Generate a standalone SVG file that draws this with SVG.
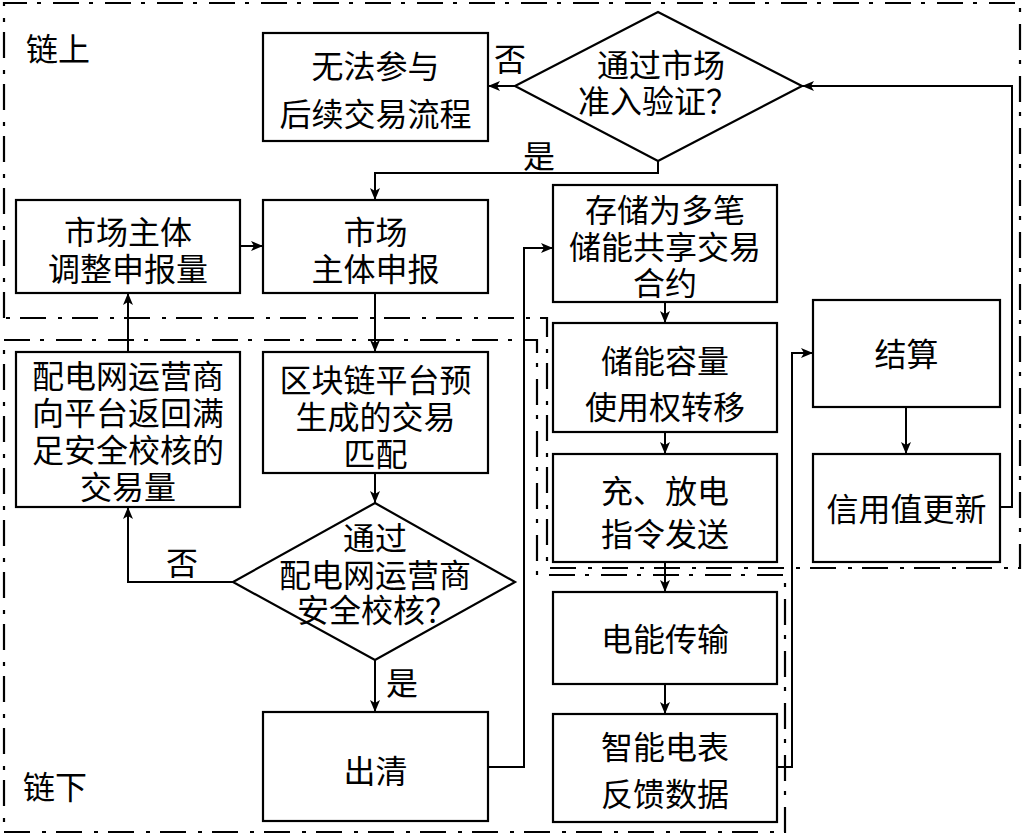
<svg xmlns="http://www.w3.org/2000/svg" width="1026" height="838" viewBox="0 0 1026 838">
<defs>
<marker id="ah" viewBox="0 0 12 10" refX="12" refY="5" markerWidth="12" markerHeight="10" markerUnits="userSpaceOnUse" orient="auto">
<path d="M0,0 L12,5 L0,10 L3,5 Z" fill="#000"/>
</marker>
<style>
.box{fill:#fff;stroke:#000;stroke-width:2.2}
.region{fill:none;stroke:#000;stroke-width:2.2;stroke-dasharray:26 10 4 12}
.conn{fill:none;stroke:#000;stroke-width:2}
.arr{marker-end:url(#ah)}
text{font-family:"Noto Sans CJK SC","Noto Sans CJK JP",sans-serif;font-size:32px;fill:#000;text-anchor:middle;dominant-baseline:central}
.lbl{text-anchor:start}
</style>
</defs>
<rect width="1026" height="838" fill="#fff"/>
<g id="regions">
<path class="region" d="M4,318 L4,3 L1020,3 L1020,568 L547,568 L547,318 Z"/>
<path class="region" d="M4,340 L537,340 L537,575 L785,575 L785,832 L4,832 Z"/>
<text class="lbl" x="26" y="47">链上</text>
<text class="lbl" x="23" y="785">链下</text>
</g>
<g id="connectors">
<path class="conn arr" d="M515,86 L488,86"/>
<path class="conn arr" d="M658,161 L658,173 L375,173 L375,200"/>
<path class="conn arr" d="M240,246 L263,246"/>
<path class="conn arr" d="M375,293 L375,352"/>
<path class="conn arr" d="M128,352 L128,293"/>
<path class="conn arr" d="M375,473 L375,503"/>
<path class="conn arr" d="M233,582 L128,582 L128,507"/>
<path class="conn arr" d="M375,660 L375,712"/>
<path class="conn arr" d="M488,767 L524,767 L524,248 L553,248"/>
<path class="conn arr" d="M665,302 L665,323"/>
<path class="conn arr" d="M665,432 L665,454"/>
<path class="conn arr" d="M665,562 L665,592"/>
<path class="conn arr" d="M665,684 L665,714"/>
<path class="conn arr" d="M777,767 L792,767 L792,353 L813,353"/>
<path class="conn arr" d="M906,407 L906,454"/>
<path class="conn arr" d="M1000,507 L1012,507 L1012,86 L802,86"/>
<text x="510" y="57">否</text>
<text x="539" y="154">是</text>
<text x="182" y="561">否</text>
<text x="402" y="681">是</text>
</g>
<g id="n_cannot">
<rect class="box" x="263" y="33" width="225" height="108"/>
<text><tspan x="375.5" y="64">无法参与</tspan><tspan x="375.5" y="112">后续交易流程</tspan></text>
</g>
<g id="n_access">
<polygon class="box" points="658,12 802,86 658,161 515,86"/>
<text><tspan x="661" y="63">通过市场</tspan><tspan x="658" y="99">准入验证？</tspan></text>
</g>
<g id="n_adjust">
<rect class="box" x="16" y="200" width="224" height="93"/>
<text><tspan x="128" y="230">市场主体</tspan><tspan x="128" y="267">调整申报量</tspan></text>
</g>
<g id="n_declare">
<rect class="box" x="263" y="200" width="225" height="93"/>
<text><tspan x="375.5" y="230">市场</tspan><tspan x="375.5" y="267">主体申报</tspan></text>
</g>
<g id="n_store">
<rect class="box" x="553" y="185" width="224" height="117"/>
<text><tspan x="665" y="208">存储为多笔</tspan><tspan x="665" y="245">储能共享交易</tspan><tspan x="665" y="281">合约</tspan></text>
</g>
<g id="n_dso_return">
<rect class="box" x="16" y="352" width="224" height="155"/>
<text><tspan x="128" y="374">配电网运营商</tspan><tspan x="128" y="411">向平台返回满</tspan><tspan x="128" y="448">足安全校核的</tspan><tspan x="128" y="485">交易量</tspan></text>
</g>
<g id="n_match">
<rect class="box" x="263" y="352" width="225" height="121"/>
<text><tspan x="375.5" y="378">区块链平台预</tspan><tspan x="375.5" y="415">生成的交易</tspan><tspan x="375.5" y="452">匹配</tspan></text>
</g>
<g id="n_safety">
<polygon class="box" points="375,503 515,582 375,660 233,582"/>
<text><tspan x="375" y="536">通过</tspan><tspan x="375" y="573">配电网运营商</tspan><tspan x="377" y="608">安全校核？</tspan></text>
</g>
<g id="n_clear">
<rect class="box" x="263" y="712" width="225" height="109"/>
<text x="375.5" y="769">出清</text>
</g>
<g id="n_transfer">
<rect class="box" x="553" y="323" width="224" height="109"/>
<text><tspan x="665" y="359">储能容量</tspan><tspan x="665" y="405">使用权转移</tspan></text>
</g>
<g id="n_command">
<rect class="box" x="553" y="454" width="224" height="108"/>
<text><tspan x="665" y="489">充、放电</tspan><tspan x="665" y="532">指令发送</tspan></text>
</g>
<g id="n_transmit">
<rect class="box" x="553" y="592" width="224" height="92"/>
<text x="665" y="637">电能传输</text>
</g>
<g id="n_meter">
<rect class="box" x="553" y="714" width="224" height="108"/>
<text><tspan x="665" y="745">智能电表</tspan><tspan x="665" y="792">反馈数据</tspan></text>
</g>
<g id="n_settle">
<rect class="box" x="813" y="300" width="187" height="107"/>
<text x="906.5" y="352">结算</text>
</g>
<g id="n_credit">
<rect class="box" x="813" y="454" width="187" height="108"/>
<text x="906.5" y="507">信用值更新</text>
</g>
</svg>
